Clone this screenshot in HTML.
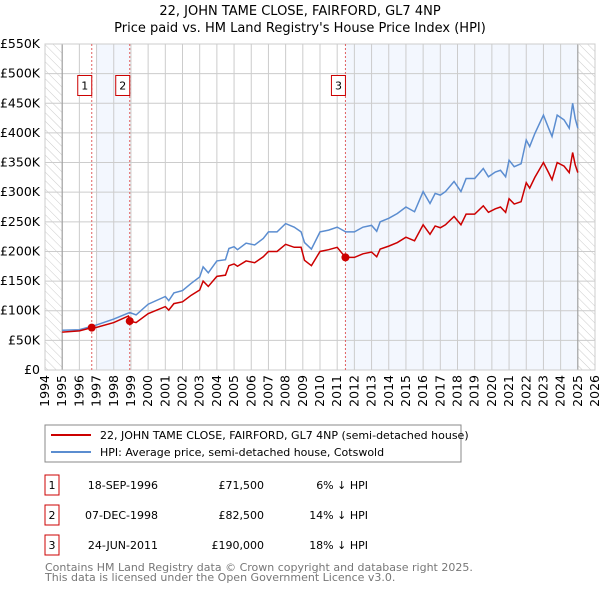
<!DOCTYPE html>
<html><head><meta charset="utf-8"><style>
body{margin:0;background:#fff;}
svg{display:block;font-family:"DejaVu Sans","Liberation Sans",sans-serif;}
</style></head><body>
<svg id="chart" width="600" height="590" viewBox="0 0 600 590" xmlns="http://www.w3.org/2000/svg">
<defs><pattern id="hatch" patternUnits="userSpaceOnUse" width="6" height="6" patternTransform="rotate(-45)"><line x1="0" y1="0" x2="0" y2="6" stroke="#ccc" stroke-width="1"/></pattern></defs>
<text x="300" y="15" text-anchor="middle" font-size="13">22, JOHN TAME CLOSE, FAIRFORD, GL7 4NP</text>
<text x="300" y="32" text-anchor="middle" font-size="13">Price paid vs. HM Land Registry's House Price Index (HPI)</text>
<g id="plot"></g>
<g>
<rect x="45" y="425" width="416" height="37" fill="#fff" stroke="#888"/>
<line x1="51" y1="435" x2="91" y2="435" stroke="#cc0000" stroke-width="2"/>
<text x="100" y="439" font-size="11">22, JOHN TAME CLOSE, FAIRFORD, GL7 4NP (semi-detached house)</text>
<line x1="51" y1="452" x2="91" y2="452" stroke="#5b8dd0" stroke-width="2"/>
<text x="100" y="456" font-size="11">HPI: Average price, semi-detached house, Cotswold</text>
</g>
<g font-size="11">
<rect x="45" y="475" width="14" height="20" fill="#fff" stroke="#cc0000"/><text x="52" y="489" text-anchor="middle">1</text>
<text x="158" y="489" text-anchor="end">18-SEP-1996</text><text x="264" y="489" text-anchor="end">£71,500</text><text x="368" y="489" text-anchor="end">6% ↓ HPI</text>
<rect x="45" y="505" width="14" height="20" fill="#fff" stroke="#cc0000"/><text x="52" y="519" text-anchor="middle">2</text>
<text x="158" y="519" text-anchor="end">07-DEC-1998</text><text x="264" y="519" text-anchor="end">£82,500</text><text x="368" y="519" text-anchor="end">14% ↓ HPI</text>
<rect x="45" y="535" width="14" height="20" fill="#fff" stroke="#cc0000"/><text x="52" y="549" text-anchor="middle">3</text>
<text x="158" y="549" text-anchor="end">24-JUN-2011</text><text x="264" y="549" text-anchor="end">£190,000</text><text x="368" y="549" text-anchor="end">18% ↓ HPI</text>
</g>
<text x="45" y="571" font-size="11" fill="#777">Contains HM Land Registry data © Crown copyright and database right 2025.</text>
<text x="45" y="581" font-size="11" fill="#777">This data is licensed under the Open Government Licence v3.0.</text>
</svg>
<script>
const hpiYears=[1995,1996,1997,1998,1998.93,1999.3,2000,2001,2001.2,2001.5,2002,2002.5,2003,2003.2,2003.5,2004,2004.5,2004.7,2005,2005.2,2005.7,2006.2,2006.7,2007,2007.5,2008,2008.5,2008.9,2009.1,2009.5,2010,2010.5,2011,2011.5,2012,2012.5,2013,2013.3,2013.5,2014,2014.5,2015,2015.5,2016,2016.4,2016.7,2017,2017.3,2017.8,2018.2,2018.5,2019,2019.5,2019.8,2020.2,2020.5,2020.8,2021,2021.3,2021.7,2022,2022.2,2022.5,2023,2023.3,2023.5,2023.8,2024.2,2024.5,2024.7,2024.85,2025];
const hpiValues=[67,68,76,86,97,93,111,124,117,130,134,146,157,174,164,184,186,205,208,203,214,211,222,233,233,247,241,233,215,204,233,236,241,233,233,241,244,234,250,256,264,275,267,301,281,298,295,301,318,301,323,323,340,326,334,337,326,354,343,348,388,377,399,430,408,394,430,422,408,450,424,408];
const priceYears=[1995,1996,1996.72,1997,1998,1998.85,1998.93,1999.3,2000,2001,2001.2,2001.5,2002,2002.5,2003,2003.2,2003.5,2004,2004.5,2004.7,2005,2005.2,2005.7,2006.2,2006.7,2007,2007.5,2008,2008.5,2008.9,2009.1,2009.5,2010,2010.5,2011,2011.48,2012,2012.5,2013,2013.3,2013.5,2014,2014.5,2015,2015.5,2016,2016.4,2016.7,2017,2017.3,2017.8,2018.2,2018.5,2019,2019.5,2019.8,2020.2,2020.5,2020.8,2021,2021.3,2021.7,2022,2022.2,2022.5,2023,2023.3,2023.5,2023.8,2024.2,2024.5,2024.7,2024.85,2025];
const priceValues=[64,66,71.5,72,80,91,82.5,80,95,107,101,112,115,126,135,150,141,158,160,176,179,175,184,181,191,200,200,212,207,207,185,176,200,203,207,190,190,196,199,191,204,209,215,224,218,245,229,243,240,245,259,245,263,263,277,266,272,275,266,289,280,284,316,307,325,350,333,321,350,344,333,367,346,333];
const saleLabels=["1","2","3"];
const saleYears=[1996.72,1998.93,2011.48];
const saleValues=[71.5,82.5,190];
const yTicks=[0,50,100,150,200,250,300,350,400,450,500,550];
const yTickLabels=["£0","£50K","£100K","£150K","£200K","£250K","£300K","£350K","£400K","£450K","£500K","£550K"];
const xTicks=[1994,1995,1996,1997,1998,1999,2000,2001,2002,2003,2004,2005,2006,2007,2008,2009,2010,2011,2012,2013,2014,2015,2016,2017,2018,2019,2020,2021,2022,2023,2024,2025,2026];

const NS="http://www.w3.org/2000/svg";
const L=45,R=595,T=44,B=370;
const x=v=>L+(v-1994)*(R-L)/32;
const y=v=>B-v*(B-T)/550;
const g=document.getElementById('plot');
function mk(t,a){const e=document.createElementNS(NS,t);for(const k in a)e.setAttribute(k,a[k]);g.appendChild(e);return e;}
let e;
e=mk('rect',{x:x(1997),y:T,width:x(saleYears[1])-x(1997),height:B-T,fill:'#f3f7fe'});


e=mk('rect',{x:x(saleYears[2]),y:T,width:x(2025)-x(saleYears[2]),height:B-T,fill:'#f3f7fe'});


e=mk('rect',{x:L,y:T,width:x(1995)-L,height:B-T,fill:'url(#hatch)'});


e=mk('rect',{x:x(2025),y:T,width:R-x(2025),height:B-T,fill:'url(#hatch)'});


yTicks.forEach((v,i)=>{
 e=mk('line',{x1:L,x2:R,y1:y(v),y2:y(v),stroke:'#ccc'});
 
 
 e=mk('text',{x:L-5,y:y(v)+4,'text-anchor':'end','font-size':'12.5'});e.textContent=yTickLabels[i];
 
 
});
xTicks.forEach(v=>{
 e=mk('line',{x1:x(v),x2:x(v),y1:T,y2:B,stroke:'#ccc'});
 
 
 e=mk('text',{transform:`translate(${x(v)+4},${B+5}) rotate(-90)`,'text-anchor':'end','font-size':'12.5'});e.textContent=v;
 
 
});
e=mk('line',{x1:x(1995),x2:x(1995),y1:T,y2:B,stroke:'#999'});


e=mk('line',{x1:x(2025),x2:x(2025),y1:T,y2:B,stroke:'#999'});


e=mk('rect',{x:L,y:T,width:R-L,height:B-T,fill:'none',stroke:'#ccc'});


saleYears.forEach((v,i)=>{
 e=mk('line',{x1:x(v),x2:x(v),y1:T,y2:B,stroke:'#e06060','stroke-dasharray':'2,2'});
 
 
 e=mk('rect',{x:x(v)-14,y:y(480)-10,width:14,height:20,fill:'#fff',stroke:'#cc0000'});
 
 
 e=mk('text',{x:x(v)-7,y:y(480)+4,'text-anchor':'middle','font-size':'11'});e.textContent=saleLabels[i];
 
 
});
e=mk('polyline',{points:hpiYears.map((v,i)=>x(v)+','+y(hpiValues[i])).join(' '),fill:'none',stroke:'#5b8dd0','stroke-width':'1.5'});


e=mk('polyline',{points:priceYears.map((v,i)=>x(v)+','+y(priceValues[i])).join(' '),fill:'none',stroke:'#cc0000','stroke-width':'1.5'});


saleYears.forEach((v,i)=>{
 e=mk('circle',{cx:x(v),cy:y(saleValues[i]),r:4,fill:'#cc0000'});
 
 
});
</script>
</body></html>
